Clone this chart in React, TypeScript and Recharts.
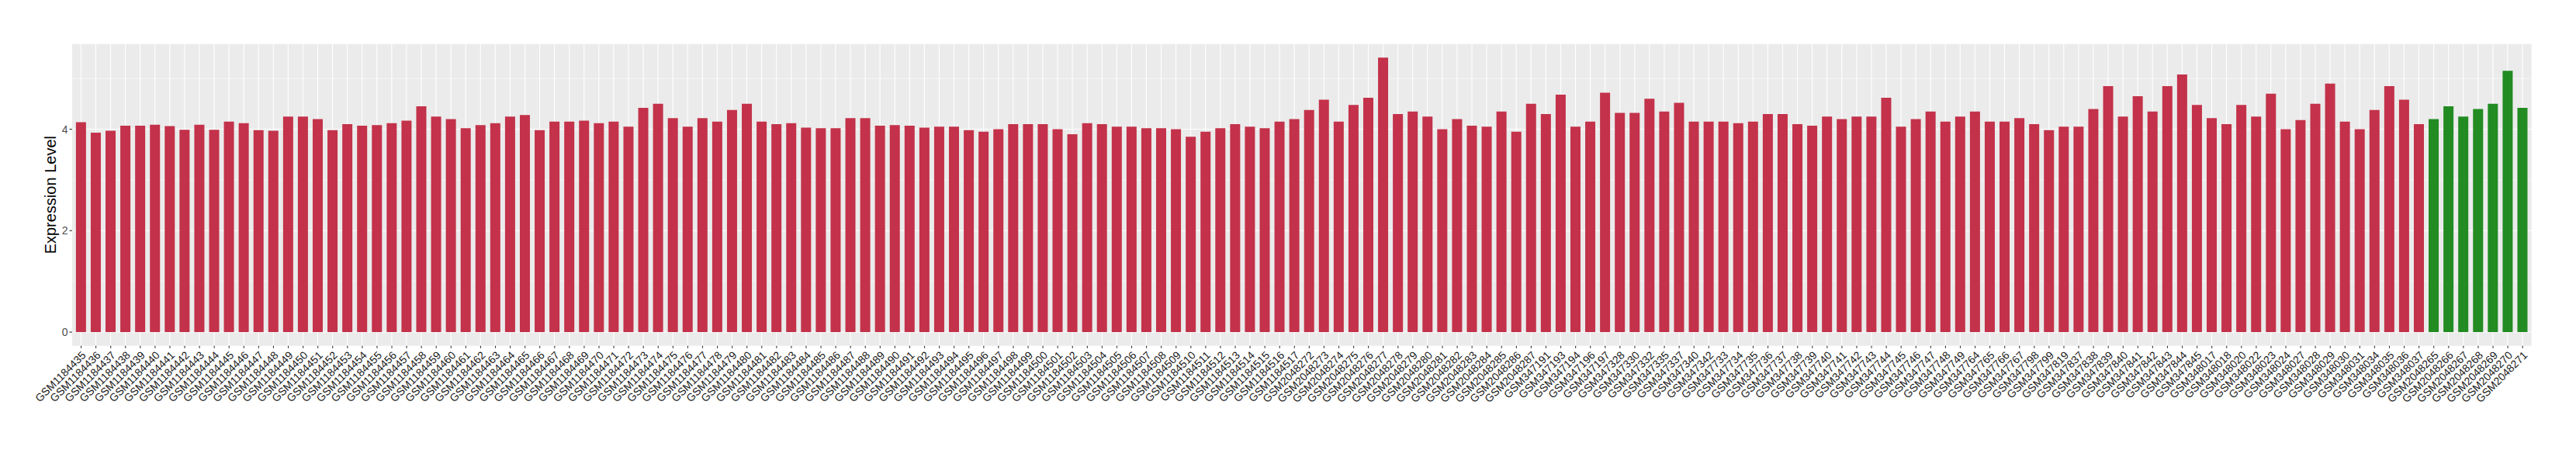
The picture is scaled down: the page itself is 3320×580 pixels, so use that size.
import { Bar, BarChart, CartesianGrid, Cell, XAxis, YAxis } from "recharts";

// sample ids, in plot order
const batchA = Array.from({ length: 83 }, (_, i) => `GSM${1184435 + i}`);
const batchB = Array.from({ length: 16 }, (_, i) => `GSM${2048272 + i}`);
const batchC = [
  "GSM347191", "GSM347193", "GSM347194", "GSM347196", "GSM347197",
  "GSM347328", "GSM347330", "GSM347332", "GSM347335", "GSM347337", "GSM347340", "GSM347342",
  "GSM347733", "GSM347734", "GSM347735", "GSM347736", "GSM347737", "GSM347738", "GSM347739",
  "GSM347740", "GSM347741", "GSM347742", "GSM347743", "GSM347744", "GSM347745", "GSM347746",
  "GSM347747", "GSM347748", "GSM347749", "GSM347764", "GSM347765", "GSM347766", "GSM347767",
  "GSM347798", "GSM347799", "GSM347819",
  "GSM347837", "GSM347838", "GSM347839", "GSM347840", "GSM347841", "GSM347842", "GSM347843",
  "GSM347844", "GSM347845",
  "GSM348017", "GSM348018", "GSM348020", "GSM348022", "GSM348023", "GSM348024",
  "GSM348027", "GSM348028", "GSM348029", "GSM348030", "GSM348031",
  "GSM348034", "GSM348035", "GSM348036", "GSM348037",
];
const greenSamples = Array.from({ length: 7 }, (_, i) => `GSM${2048265 + i}`);

const redSamples = [...batchA, ...batchB, ...batchC];

const redValues = [
  // GSM1184435 - GSM1184517
  4.14, 3.93, 3.97, 4.07, 4.07, 4.09, 4.06, 3.99, 4.09, 3.99, 4.15,
  4.12, 3.98, 3.97, 4.25, 4.25, 4.2, 3.98, 4.1, 4.07, 4.08,
  4.12, 4.17, 4.45, 4.25, 4.2, 4.02, 4.08, 4.12, 4.25, 4.28,
  3.98, 4.15, 4.15, 4.17, 4.12, 4.15, 4.05, 4.42, 4.5, 4.22,
  4.05, 4.22, 4.15, 4.38, 4.5, 4.15, 4.1, 4.12, 4.03, 4.02,
  4.02, 4.22, 4.22, 4.07, 4.08, 4.07, 4.03, 4.05, 4.05, 3.98,
  3.95, 4.0, 4.1, 4.1, 4.1, 4.0, 3.9, 4.12, 4.1, 4.05,
  4.05, 4.02, 4.02, 4.0, 3.85, 3.95, 4.02, 4.1, 4.05, 4.02, 4.15, 4.2,
  // GSM2048272 - GSM2048287
  4.38, 4.58, 4.15, 4.48, 4.62, 5.41, 4.3, 4.35, 4.25, 4.0, 4.2, 4.07, 4.05, 4.35, 3.95, 4.5,
  // GSM347191 - GSM348037
  4.3, 4.68, 4.05, 4.15, 4.72, 4.32, 4.32, 4.6, 4.35, 4.52,
  4.15, 4.15, 4.15, 4.12, 4.15, 4.3, 4.3, 4.1, 4.07, 4.25,
  4.2, 4.25, 4.25, 4.62, 4.05, 4.2, 4.35, 4.15, 4.25, 4.35,
  4.15, 4.15, 4.22, 4.1, 3.98, 4.05, 4.05, 4.4, 4.85, 4.25,
  4.65, 4.35, 4.85, 5.08, 4.48, 4.22, 4.1, 4.48, 4.25, 4.7,
  4.0, 4.18, 4.5, 4.9, 4.15, 4.0, 4.38, 4.85, 4.58, 4.1,
];
const greenValues = [4.2, 4.45, 4.25, 4.4, 4.5, 5.15, 4.42];

const yTicks = [0, 2, 4];
const yMinorTicks = [1, 3, 5];

const RED = "#C3324A";
const GREEN = "#228B22";
const FONT = "'Liberation Sans', Arial, Helvetica, sans-serif";

type Datum = { name: string; value: number; color: string };

const data: Datum[] = [
  ...redSamples.map((name, i) => ({ name, value: redValues[i], color: RED })),
  ...greenSamples.map((name, i) => ({ name, value: greenValues[i], color: GREEN })),
];

function SampleTick(props: any) {
  const { x, y, payload } = props;
  const tx = x + 7;
  const ty = y + 8;
  return (
    <text
      x={tx}
      y={ty}
      transform={`rotate(-45, ${tx}, ${ty})`}
      textAnchor="end"
      fontSize={14}
      fontFamily={FONT}
      fill="#1a1a1a"
    >
      {payload.value}
    </text>
  );
}

// white vertical grid line through the middle of each category slot
function SlotLine(props: any) {
  const { x, y, width, height } = props;
  const cx = x + width / 2;
  return <line x1={cx} x2={cx} y1={y} y2={y + height} stroke="#FFFFFF" strokeWidth={1.1} />;
}

export default function App() {
  return (
    <div style={{ position: "absolute", left: 0, top: 0, width: 3320, height: 580, background: "#fff" }}>
      <BarChart
        width={3320}
        height={580}
        data={data}
        margin={{ top: 56.7, right: 57.3, bottom: 0, left: 53 }}
        barCategoryGap="15%"
      >
        <CartesianGrid
          fill="#EBEBEB"
          stroke="#FFFFFF"
          strokeWidth={0.55}
          vertical={false}
          horizontalValues={yMinorTicks}
        />
        <CartesianGrid
          stroke="#FFFFFF"
          strokeWidth={1.1}
          vertical={false}
          horizontalValues={yTicks}
        />
        <XAxis
          dataKey="name"
          interval={0}
          height={134.3}
          axisLine={false}
          tickSize={3}
          tickLine={{ stroke: "#333333", strokeWidth: 1.1 }}
          padding={{ left: 2, right: 2 }}
          tick={<SampleTick />}
        />
        <YAxis
          type="number"
          domain={[-0.27, 5.68]}
          allowDataOverflow
          ticks={yTicks}
          width={40}
          axisLine={false}
          tickSize={3.5}
          tickMargin={2}
          tickLine={{ stroke: "#333333", strokeWidth: 1.1 }}
          tick={{ fill: "#4D4D4D", fontSize: 14, fontFamily: FONT }}
          label={{
            content: () => (
              <text
                x={65}
                y={251.2}
                transform="rotate(-90, 65, 251.2)"
                textAnchor="middle"
                dominantBaseline="central"
                fontSize={20}
                fontFamily={FONT}
                fill="#000"
              >
                Expression Level
              </text>
            ),
          }}
        />
        <Bar dataKey="value" isAnimationActive={false} background={<SlotLine />}>
          {data.map((d) => (
            <Cell key={d.name} fill={d.color} />
          ))}
        </Bar>
      </BarChart>
    </div>
  );
}
